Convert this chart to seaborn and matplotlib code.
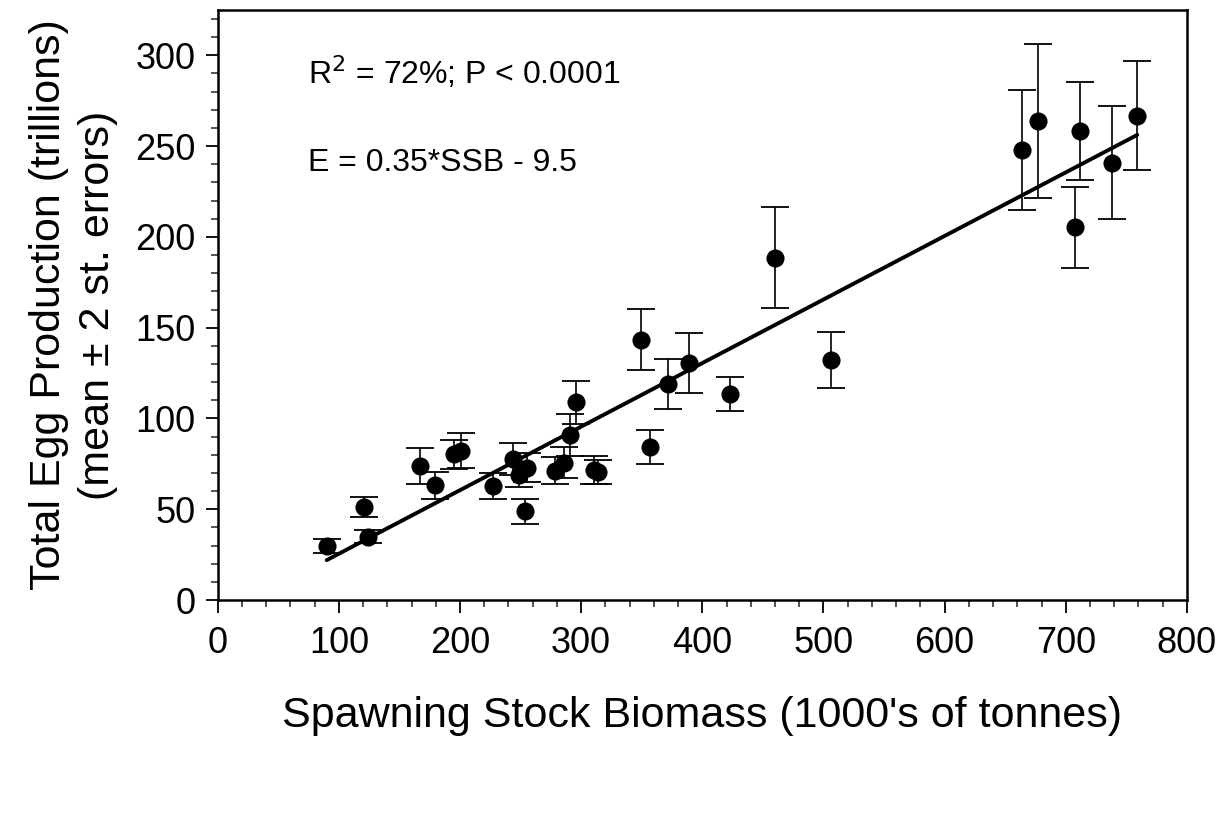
import numpy as np
import matplotlib
matplotlib.use("Agg")
import matplotlib.pyplot as plt
from matplotlib.ticker import MultipleLocator
import seaborn as sns
import pandas as pd

# Spawning stock biomass (1000's of tonnes)
ssb = [90, 121, 124, 167, 179, 195, 201, 227, 244, 249, 255, 254, 278, 286,
       291, 296, 311, 314, 349, 357, 372, 389, 423, 460, 506, 664, 677, 708,
       712, 738, 759]
# Total egg production (trillions), mean
eggs = [29.7, 51.4, 34.9, 74.0, 63.3, 80.2, 82.2, 62.9, 77.8, 69.0, 72.8, 48.9,
        71.2, 75.6, 90.9, 109.0, 71.5, 70.5, 143.4, 84.3, 119.1, 130.7, 113.3,
        188.6, 132.3, 247.7, 263.6, 205.2, 258.2, 240.8, 266.8]
# 2 standard errors
err2 = [3.7, 5.5, 3.5, 10.0, 7.4, 8.0, 9.6, 7.0, 8.7, 7.0, 8.0, 6.8, 7.5, 8.5,
        11.6, 11.8, 7.6, 6.5, 16.8, 9.4, 13.7, 16.6, 9.4, 28.0, 15.3, 33.0,
        42.4, 22.4, 27.0, 31.0, 30.0]

# regression E = 0.35*SSB - 9.5
slope = 0.35
intercept = -9.5

df = pd.DataFrame({"ssb": ssb, "eggs": eggs, "err": err2})
fit = pd.DataFrame({"ssb": [min(ssb), max(ssb)]})
fit["eggs"] = slope * fit["ssb"] + intercept

sns.set_style("ticks")
plt.rcParams["font.family"] = ["Liberation Sans", "DejaVu Sans"]

fig = plt.figure(figsize=(12.23, 8.22), dpi=100)
ax = fig.add_axes([0.178, 0.27, 0.7925, 0.718])

ax.errorbar(df["ssb"], df["eggs"], yerr=df["err"], fmt="none", ecolor="black",
            elinewidth=1.2, capsize=10, capthick=1.3, zorder=2)
sns.scatterplot(data=df, x="ssb", y="eggs", color="black", s=170,
                edgecolor="black", linewidth=0, ax=ax, zorder=3)
sns.lineplot(data=fit, x="ssb", y="eggs", color="black", linewidth=2.8, ax=ax,
             zorder=4)

ax.set_xlim(0, 800)
ax.set_ylim(0, 325)
ax.xaxis.set_major_locator(MultipleLocator(100))
ax.xaxis.set_minor_locator(MultipleLocator(20))
ax.yaxis.set_major_locator(MultipleLocator(50))
ax.yaxis.set_minor_locator(MultipleLocator(10))
ax.tick_params(which="major", length=9, width=1.3, labelsize=26, pad=7,
               colors="black")
ax.tick_params(axis="x", which="major", pad=10)
ax.tick_params(which="minor", length=5, width=1.1)
for sp in ax.spines.values():
    sp.set_linewidth(1.8)
    sp.set_color("black")

ax.set_xlabel("Spawning Stock Biomass (1000's of tonnes)", fontsize=31,
              labelpad=25, color="black")
ax.set_ylabel("Total Egg Production (trillions)\n(mean \u00b1 2 st. errors)",
              fontsize=31, labelpad=12, linespacing=1.3, color="black")

ax.text(0.093, 0.893, "R$^2$ = 72%; P < 0.0001", transform=ax.transAxes,
        fontsize=23, va="center", color="black")
ax.text(0.093, 0.74, "E = 0.35*SSB - 9.5", transform=ax.transAxes,
        fontsize=23, va="center", color="black")

fig.savefig("out.png", dpi=100)
